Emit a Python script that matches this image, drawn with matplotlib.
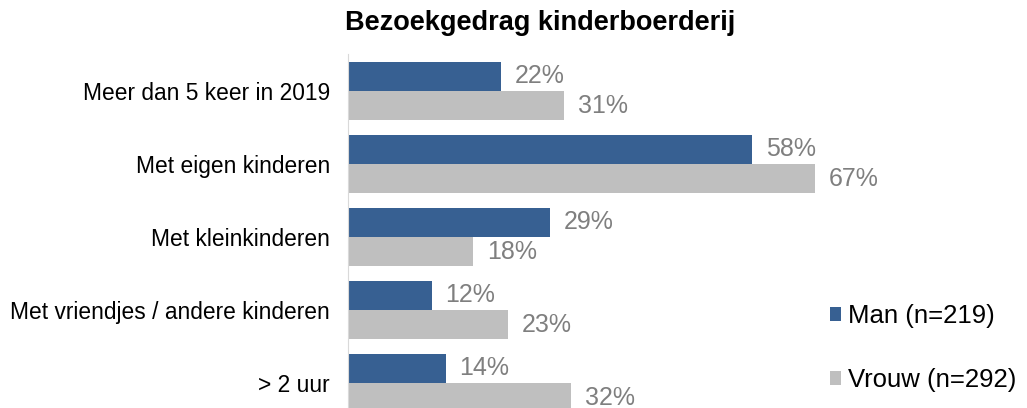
import matplotlib.pyplot as plt
import numpy as np

plt.rcParams['font.family'] = ['Liberation Sans', 'DejaVu Sans']

# data
categories = ['Meer dan 5 keer in 2019', 'Met eigen kinderen', 'Met kleinkinderen',
              'Met vriendjes / andere kinderen', '> 2 uur']
man = [22, 58, 29, 12, 14]
vrouw = [31, 67, 18, 23, 32]
series_names = ['Man (n=219)', 'Vrouw (n=292)']

blue = '#376092'
grey = '#bfbfbf'
label_grey = '#7f7f7f'

fig = plt.figure(figsize=(10.27, 4.08), dpi=100)
ax = fig.add_axes([0.3389, -0.028, 0.5453, 0.8946])

y = np.arange(len(categories))
h = 0.4
b1 = ax.barh(y - h / 2, man, height=h, color=blue, label=series_names[0])
b2 = ax.barh(y + h / 2, vrouw, height=h, color=grey, label=series_names[1])

for bars, vals in [(b1, man), (b2, vrouw)]:
    for bar, v in zip(bars, vals):
        ax.text(bar.get_width() + 2.0, bar.get_y() + bar.get_height() / 2, f'{v}%',
                va='center', ha='left', fontsize=18, color=label_grey)

ax.set_xlim(0, 80.4)
ax.set_ylim(len(categories) - 0.5, -0.5)
ax.set_yticks(y)
ax.set_yticklabels(categories, fontsize=16.4)
ax.tick_params(axis='y', length=0, pad=13)
ax.set_xticks([])
for s in ['top', 'right', 'bottom']:
    ax.spines[s].set_visible(False)
ax.spines['left'].set_color('#d9d9d9')

fig.suptitle('Bezoekgedrag kinderboerderij', fontsize=19.5, fontweight='bold', x=0.526, y=0.975)

fig.legend(loc='upper left', bbox_to_anchor=(0.808, 0.255), frameon=False, fontsize=18.5,
           borderpad=0, borderaxespad=0,
           handlelength=0.45, handleheight=0.45, handletextpad=0.25, labelspacing=1.55)

fig.savefig('out.png', dpi=100)
